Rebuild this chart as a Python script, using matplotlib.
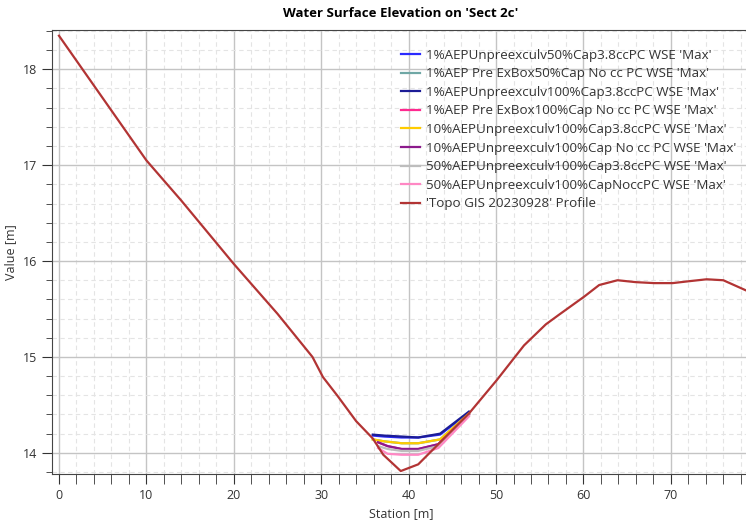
import matplotlib
matplotlib.use("Agg")
import matplotlib.pyplot as plt
from matplotlib.ticker import MultipleLocator

plt.rcParams['font.family'] = ['Open Sans', 'DejaVu Sans']

# ground profile
station = [0.0, 10.0, 14.0, 20.0, 25.0, 29.0, 30.2, 31.9, 34.0, 35.9, 37.1, 39.1,
           41.1, 46.9, 50.1, 53.2, 55.7, 57.2, 60.1, 61.8, 63.9, 66.0, 68.1, 70.2,
           72.1, 74.1, 76.0, 78.7]
ground = [18.35, 17.05, 16.63, 15.97, 15.45, 15.0, 14.79, 14.59, 14.33, 14.15, 13.98,
          13.81, 13.88, 14.41, 14.76, 15.12, 15.34, 15.44, 15.63, 15.75, 15.80, 15.78,
          15.77, 15.77, 15.79, 15.81, 15.80, 15.69]

# water surfaces
ws_sta = [35.9, 37.2, 39.2, 41.1, 43.6, 46.9]
ws_low_sta = [36.5, 37.6, 39.2, 41.1, 43.4, 46.9]
wse_1_50_cc = [14.18, 14.17, 14.16, 14.16, 14.19, 14.42]
wse_1_50_pre = [14.14, 14.12, 14.10, 14.10, 14.14, 14.41]
wse_1_100_cc = [14.19, 14.18, 14.17, 14.16, 14.20, 14.43]
wse_1_100_pre = [14.11, 14.07, 14.04, 14.04, 14.09, 14.40]
wse_10_100_cc = [14.14, 14.12, 14.10, 14.10, 14.14, 14.41]
wse_10_100_no = [14.11, 14.07, 14.04, 14.04, 14.09, 14.40]
wse_50_100_cc = [14.07, 14.04, 14.02, 14.02, 14.07, 14.39]
wse_50_100_no = [14.05, 13.99, 13.98, 13.98, 14.05, 14.38]

labels = ["1%AEPUnpreexculv50%Cap3.8ccPC WSE 'Max'",
          "1%AEP Pre ExBox50%Cap No cc PC WSE 'Max'",
          "1%AEPUnpreexculv100%Cap3.8ccPC WSE 'Max'",
          "1%AEP Pre ExBox100%Cap No cc PC WSE 'Max'",
          "10%AEPUnpreexculv100%Cap3.8ccPC WSE 'Max'",
          "10%AEPUnpreexculv100%Cap No cc PC WSE 'Max'",
          "50%AEPUnpreexculv100%Cap3.8ccPC WSE 'Max'",
          "50%AEPUnpreexculv100%CapNoccPC WSE 'Max'",
          "'Topo GIS 20230928' Profile"]
colors = ['#2a2aff', '#6fa7a5', '#1c1c96', '#ff2a90', '#ffcc00', '#8c1a8c',
          '#bdbdbd', '#ff88c4', '#b23434']

fig = plt.figure(figsize=(7.46, 5.26), dpi=100)
ax = fig.add_axes([0.0697, 0.099, 0.935, 0.844])

series = [(ws_sta, wse_1_50_cc), (ws_sta, wse_1_50_pre), (ws_sta, wse_1_100_cc),
          (ws_low_sta, wse_1_100_pre), (ws_sta, wse_10_100_cc), (ws_low_sta, wse_10_100_no),
          (ws_low_sta, wse_50_100_cc), (ws_low_sta, wse_50_100_no), (station, ground)]
for (xs, ys), lab, c in zip(series, labels, colors):
    ax.plot(xs, ys, color=c, lw=1.6, label=lab)

ax.set_xlim(-0.8, 79.0)
ax.set_ylim(13.78, 18.41)
ax.xaxis.set_major_locator(MultipleLocator(10))
ax.xaxis.set_minor_locator(MultipleLocator(2))
ax.yaxis.set_major_locator(MultipleLocator(1))
ax.yaxis.set_minor_locator(MultipleLocator(0.2))
ax.grid(which='major', color='#c4c4c4', lw=1.0)
ax.grid(which='minor', color='#e4e4e4', lw=0.8, ls=(0, (4, 3)))
ax.set_axisbelow(True)

for s in ax.spines.values():
    s.set_color('#444444')
ax.spines['right'].set_visible(False)
ax.tick_params(which='major', length=7, color='#333333', labelsize=9, labelcolor='#333333')
ax.tick_params(axis='x', which='minor', length=7, color='#333333')
ax.tick_params(axis='y', which='minor', length=4, color='#333333')

ax.set_xlabel('Station [m]', fontsize=9, color='#333333')
ax.set_ylabel('Value [m]', fontsize=9, color='#333333')
ax.set_title("Water Surface Elevation on 'Sect 2c'", fontsize=9.5, fontweight='bold', pad=9)

leg = ax.legend(loc='upper right', bbox_to_anchor=(0.998, 0.985), frameon=False, fontsize=9.6,
                handlelength=1.4, labelspacing=0.42, handletextpad=0.45)
for t in leg.get_texts():
    t.set_color('#333333')

fig.savefig('out.png', dpi=100)
